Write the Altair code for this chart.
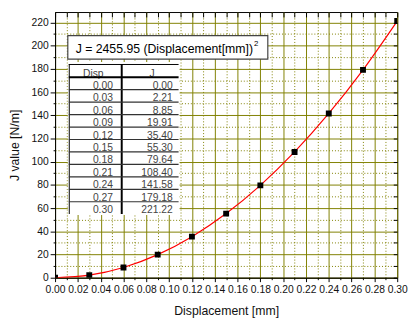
import altair as alt
import pandas as pd

# ---- data ----
disp = [0.00, 0.03, 0.06, 0.09, 0.12, 0.15, 0.18, 0.21, 0.24, 0.27, 0.30]
J = [0.00, 2.21, 8.85, 19.91, 35.40, 55.30, 79.64, 108.40, 141.58, 179.18, 221.22]
x_ticks = [0.00, 0.01, 0.02, 0.03, 0.04, 0.05, 0.06, 0.07, 0.08, 0.09, 0.10,
           0.11, 0.12, 0.13, 0.14, 0.15, 0.16, 0.17, 0.18, 0.19, 0.20,
           0.21, 0.22, 0.23, 0.24, 0.25, 0.26, 0.27, 0.28, 0.29, 0.30]
y_ticks = [0, 10, 20, 30, 40, 50, 60, 70, 80, 90, 100, 110, 120, 130, 140,
           150, 160, 170, 180, 190, 200, 210, 220]
header = ["Disp", "J"]
eq_text = "J = 2455.95 (Displacement[mm])"
eq_sup = "2"
x_title = "Displacement [mm]"
y_title = "J value [N/m]"

FONT = "Liberation Sans"
OLIVE = "#808000"

df = pd.DataFrame({"disp": disp, "J": J})
tbl = pd.DataFrame({
    "i": list(range(len(disp))),
    "disp_s": [f"{v:.2f}" for v in disp],
    "J_s": [f"{v:.2f}" for v in J],
})
hdr = pd.DataFrame({"c": [0, 1], "h": header})
one = pd.DataFrame({"t": [eq_text], "s": [eq_sup]})

xscale = alt.Scale(domain=[0, 0.30], nice=False, zero=False)
yscale = alt.Scale(domain=[0, 229], nice=False, zero=False)

minor_x = "round(datum.value*100) % 2 == 1"
minor_y = "round(datum.value/10) % 2 == 1"

x_axis = alt.Axis(
    values=x_ticks, title=x_title, format=".2f",
    labelExpr=f"{minor_x} ? '' : datum.label",
    labelOverlap=False, labelFlush=False,
    labelFont=FONT, labelFontSize=10.5, labelColor="#111", labelPadding=3,
    grid=True, gridColor=OLIVE, gridWidth=1,
    gridDash={"condition": {"test": minor_x, "value": [1, 2]}, "value": []},
    ticks=True, tickColor="black",
    tickSize={"condition": {"test": minor_x, "value": 2}, "value": 4},
    domainColor="black",
    titleFont=FONT, titleFontSize=12.5, titleFontWeight="normal", titleColor="#111",
    titleX=174.5, titleY=34, titleBaseline="middle", titleAlign="center",
)
y_axis = alt.Axis(
    values=y_ticks, title=y_title,
    labelExpr=f"{minor_y} ? '' : datum.label",
    labelOverlap=False, labelFlush=False,
    labelFont=FONT, labelFontSize=10.5, labelColor="#111", labelPadding=2,
    grid=True, gridColor=OLIVE, gridWidth=1,
    gridDash={"condition": {"test": minor_y, "value": [1, 2]}, "value": []},
    ticks=True, tickColor="black",
    tickSize={"condition": {"test": minor_y, "value": 2}, "value": 5},
    domainColor="black",
    titleFont=FONT, titleFontSize=12.5, titleFontWeight="normal", titleColor="#111",
    titleX=-41, titleY=135.5, titleAngle=270, titleBaseline="middle", titleAlign="center",
)
top_axis = alt.Axis(orient="top", values=x_ticks, labels=False, domain=False,
                    grid=False, ticks=True, tickSize=5, tickColor="black",
                    offset=-5, title=None)
right_axis = alt.Axis(orient="right", values=y_ticks, labels=False, domain=False,
                      grid=False, ticks=True, tickSize=4, tickColor="black",
                      offset=-4, title=None)

base = alt.Chart(df)

line = base.mark_line(color="red", strokeWidth=1.2, interpolate="monotone", clip=True).encode(
    x=alt.X("disp:Q", scale=xscale, axis=x_axis),
    y=alt.Y("J:Q", scale=yscale, axis=y_axis),
)
pts = base.mark_square(size=36, color="black", opacity=1, clip=True).encode(
    x=alt.X("disp:Q", axis=None),
    y=alt.Y("J:Q", axis=None),
)
frame = base.mark_point(opacity=0).encode(
    x=alt.X("disp:Q", axis=top_axis),
    y=alt.Y("J:Q", axis=right_axis),
)

# ---- inset table ----
tb = alt.Chart(tbl)
tbg = alt.Chart(one).mark_rect(color="white").encode(
    x=alt.value(13), x2=alt.value(127), y=alt.value(51), y2=alt.value(207))
vleft = alt.Chart(one).mark_rule(color="black", strokeWidth=1).encode(
    x=alt.value(14.5), y=alt.value(53), y2=alt.value(206))
vmid = alt.Chart(one).mark_rule(color="black", strokeWidth=2).encode(
    x=alt.value(68), y=alt.value(53), y2=alt.value(206))
htop = alt.Chart(one).mark_rule(color="black", strokeWidth=1).encode(
    x=alt.value(14), x2=alt.value(126), y=alt.value(53.5))
hhead = alt.Chart(one).mark_rule(color="black", strokeWidth=2).encode(
    x=alt.value(14), x2=alt.value(126), y=alt.value(66.5))
rows = tb.transform_filter("datum.i < 10").transform_calculate(
    ry="66.5 + 12.7*(datum.i+1)").mark_rule(color="#333", strokeWidth=1.2).encode(
    x=alt.value(14), x2=alt.value(126), y=alt.Y("ry:Q", scale=None))
txt_d = tb.transform_calculate(ty="66.5 + 12.7*(datum.i+1) - 1").mark_text(
    align="right", baseline="alphabetic", font=FONT, fontSize=10.5, color="#444").encode(
    x=alt.value(59), y=alt.Y("ty:Q", scale=None), text="disp_s:N")
txt_j = tb.transform_calculate(ty="66.5 + 12.7*(datum.i+1) - 1").mark_text(
    align="right", baseline="alphabetic", font=FONT, fontSize=10.5, color="#444").encode(
    x=alt.value(120), y=alt.Y("ty:Q", scale=None), text="J_s:N")
txt_h = alt.Chart(hdr).transform_calculate(hx="datum.c == 0 ? 39 : 99").mark_text(
    align="center", baseline="alphabetic", font=FONT, fontSize=10.5, color="#444").encode(
    x=alt.X("hx:Q", scale=None), y=alt.value(66), text="h:N")

# ---- equation box ----
ebox = alt.Chart(one).mark_rect(fill="white", stroke="#444", strokeWidth=1.2).encode(
    x=alt.value(13), x2=alt.value(217), y=alt.value(24), y2=alt.value(48))
etxt = alt.Chart(one).mark_text(align="left", baseline="alphabetic", font=FONT,
                                fontSize=12.5, color="black").encode(
    x=alt.value(21), y=alt.value(42), text="t:N")
esup = alt.Chart(one).mark_text(align="left", baseline="alphabetic", font=FONT,
                                fontSize=8, color="black").encode(
    x=alt.value(203), y=alt.value(35), text="s:N")

chart = alt.layer(
    line, pts, frame, tbg, vleft, vmid, htop, txt_h, hhead, rows, txt_d, txt_j,
    ebox, etxt, esup
).resolve_axis(x="independent", y="independent").properties(
    width=349, height=271,
    padding={"left": 48, "top": 1, "right": 11, "bottom": 40},
    autosize=alt.AutoSizeParams(type="none"),
).configure_view(stroke="black", strokeWidth=1)

chart.save("out.html", embed_options={"renderer": "svg", "actions": False})
